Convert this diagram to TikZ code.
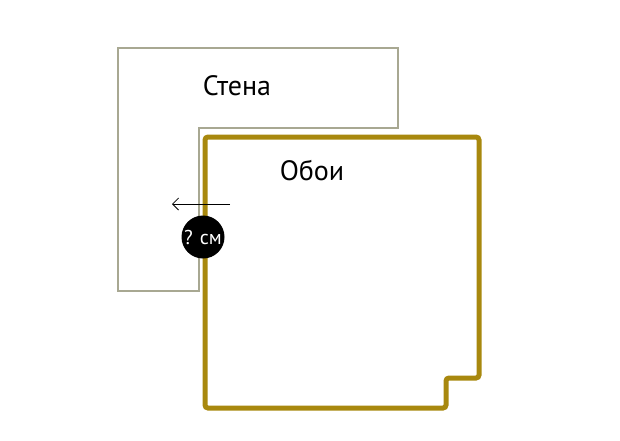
\documentclass[tikz,border=0pt]{standalone}
\usepackage{fontspec}
\setmainfont{PT Sans}
\usetikzlibrary{arrows.meta}
\definecolor{wallgray}{HTML}{A8A892}
\definecolor{paperolive}{HTML}{A8880E}

\begin{document}
\begin{tikzpicture}
  [x=1pt,y=-1pt,every node/.style={font=\fontsize{28}{32}\selectfont}]
  \useasboundingbox (0,0) rectangle (620,440);
  \draw[wallgray,line width=1.5pt] (118,48) -- (398,48) -- (398,128) -- (199,128) -- (199,291) -- (118,291) -- cycle;
  \draw[paperolive,line width=5pt,rounded corners=3pt] (205,137) -- (479,137) -- (479,378) -- (446,378) -- (446,408) -- (205,408) -- cycle;
  \node(wall) at (237,86) {Стена};
  \node(paper) at (312,171) {Обои};
  \coordinate (a1) at (230,204);
  \coordinate (a2) at (172,204);
  \draw[-{Straight Barb[length=6pt,width=12pt]},line width=0.8pt] (a1) -- (a2);
  \node(gap) at (203,237) [circle,fill=black,minimum size=43pt,inner sep=0pt,text=white,font=\fontsize{20}{22}\selectfont] {? см};
\end{tikzpicture}
\end{document}
